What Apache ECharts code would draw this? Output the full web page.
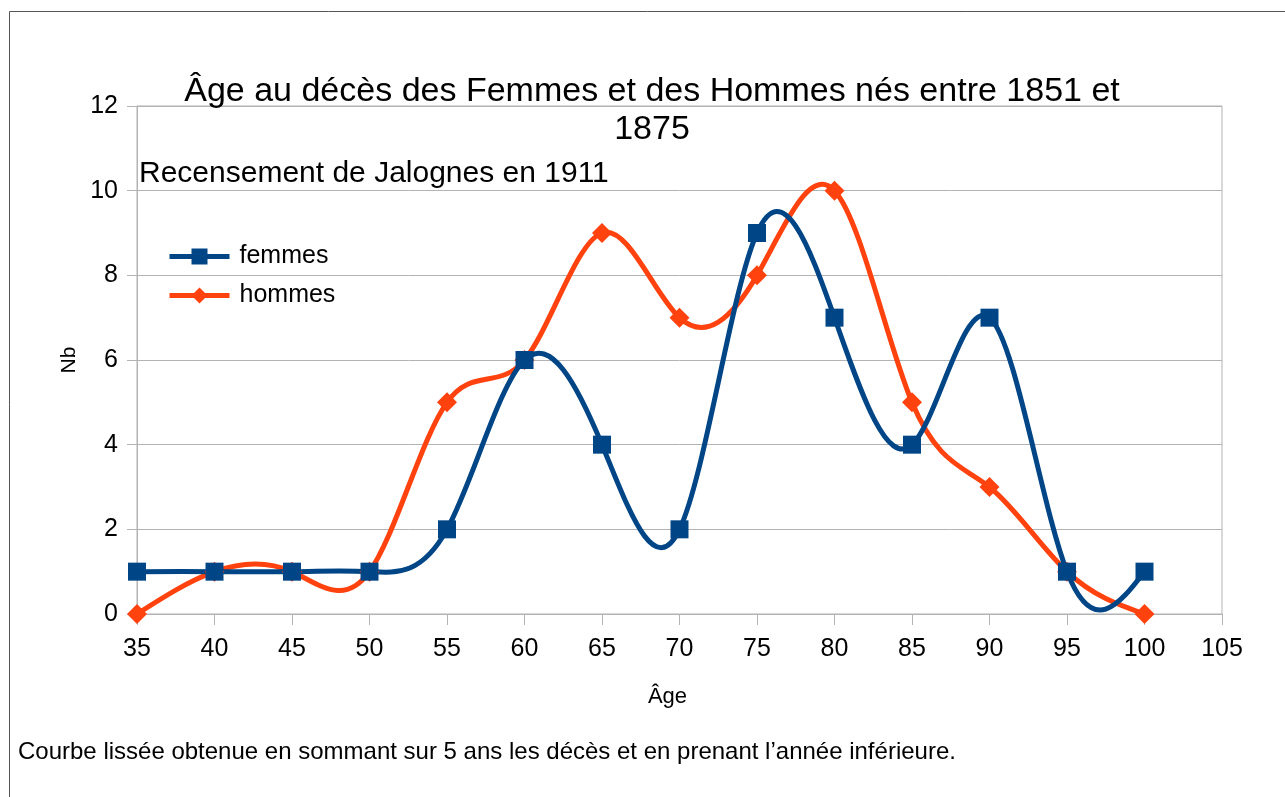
<!DOCTYPE html>
<html>
<head>
<meta charset="utf-8">
<script src="https://cdn.jsdelivr.net/npm/echarts@6/dist/echarts.min.js"></script>
<style>
  html, body { margin: 0; padding: 0; background: #fff; }
  #chart { width: 1285px; height: 797px; }
</style>
</head>
<body>
<div id="chart"></div>
<script>
// ages (x) and counts
const ages = [35, 40, 45, 50, 55, 60, 65, 70, 75, 80, 85, 90, 95, 100]
const femmes = [1, 1, 1, 1, 2, 6, 4, 2, 9, 7, 4, 7, 1, 1]
const hommes = [0, 1, 1, 1, 5, 6, 9, 7, 8, 10, 5, 3, 1, 0]

const font = 'Liberation Sans, Arial, sans-serif'
const gridColor = '#b3b3b3'
const blue = '#004586'
const orange = '#ff420e'

// natural cubic spline through pixel points, as bezier path (like the office "cubic spline" line)
function splinePath (pts) {
  const n = pts.length - 1
  const h = []
  for (let i = 0; i < n; i++) h.push(pts[i + 1][0] - pts[i][0])
  const M = new Array(n + 1).fill(0)
  // tridiagonal system for interior second derivatives
  const a = [], b = [], c = [], d = []
  for (let i = 1; i < n; i++) {
    a.push(h[i - 1])
    b.push(2 * (h[i - 1] + h[i]))
    c.push(h[i])
    d.push(6 * ((pts[i + 1][1] - pts[i][1]) / h[i] - (pts[i][1] - pts[i - 1][1]) / h[i - 1]))
  }
  const m = b.length
  for (let i = 1; i < m; i++) {
    const w = a[i] / b[i - 1]
    b[i] -= w * c[i - 1]
    d[i] -= w * d[i - 1]
  }
  if (m > 0) {
    M[m] = d[m - 1] / b[m - 1]
    for (let i = m - 2; i >= 0; i--) M[i + 1] = (d[i] - c[i] * M[i + 2]) / b[i]
  }
  let path = 'M' + pts[0][0] + ' ' + pts[0][1]
  for (let i = 0; i < n; i++) {
    const [x0, y0] = pts[i]
    const [x1, y1] = pts[i + 1]
    const hh = h[i]
    const s = (y1 - y0) / hh
    const d0 = s - hh * (2 * M[i] + M[i + 1]) / 6
    const d1 = s + hh * (M[i] + 2 * M[i + 1]) / 6
    path += ' C' + (x0 + hh / 3) + ' ' + (y0 + d0 * hh / 3) + ' ' +
      (x1 - hh / 3) + ' ' + (y1 - d1 * hh / 3) + ' ' + x1 + ' ' + y1
  }
  return path
}

function curveSeries (name, values, color, z) {
  return {
    name: name,
    type: 'custom',
    coordinateSystem: 'cartesian2d',
    data: ages.map((a, i) => [a, values[i]]),
    encode: { x: 0, y: 1 },
    z: z,
    silent: true,
    renderItem: function (params, api) {
      if (params.dataIndex !== 0) return null
      const pts = ages.map((a, i) => api.coord([a, values[i]]))
      return {
        type: 'path',
        shape: { pathData: splinePath(pts) },
        style: { stroke: color, lineWidth: 5, fill: 'none', lineJoin: 'round', lineCap: 'round' }
      }
    }
  }
}

function markerSeries (name, values, color, symbol, size, z) {
  return {
    name: name,
    type: 'line',
    data: ages.map((a, i) => [a, values[i]]),
    symbol: symbol,
    symbolSize: size,
    lineStyle: { color: color, width: 0 },
    itemStyle: { color: color },
    z: z
  }
}

const chart = echarts.init(document.getElementById('chart'))

chart.setOption({
  animation: false,
  textStyle: { fontFamily: font },
  title: [
    {
      text: 'Âge au décès des Femmes et des Hommes nés entre 1851 et\n1875',
      left: 647,
      top: 68,
      textAlign: 'center',
      textStyle: { fontSize: 34, fontWeight: 'normal', color: '#000', lineHeight: 38, fontFamily: font }
    },
    {
      text: 'Recensement de Jalognes en 1911',
      left: 134,
      top: 154,
      textStyle: { fontSize: 30, fontWeight: 'normal', color: '#000', fontFamily: font }
    },
    {
      text: 'Courbe lissée obtenue en sommant sur 5 ans les décès et en prenant l’année inférieure.',
      left: 13,
      top: 735,
      textStyle: { fontSize: 24, fontWeight: 'normal', color: '#000', fontFamily: font }
    }
  ],
  graphic: [
    {
      type: 'rect',
      shape: { x: 9.5, y: 11.5, width: 1300, height: 800 },
      style: { fill: 'none', stroke: '#555', lineWidth: 1 },
      silent: true
    }
  ],
  legend: {
    orient: 'vertical',
    left: 162,
    top: 239,
    itemWidth: 60,
    itemHeight: 20,
    itemGap: 14,
    lineStyle: { width: 5 },
    textStyle: { fontSize: 25, color: '#000', fontFamily: font, padding: [0, 0, 0, 5] },
    data: ['femmes', 'hommes']
  },
  grid: {
    left: 137,
    right: 63,
    top: 106,
    bottom: 183,
    show: true,
    borderColor: gridColor,
    borderWidth: 1
  },
  xAxis: {
    type: 'value',
    min: 35,
    max: 105,
    interval: 5,
    name: 'Âge',
    nameLocation: 'middle',
    nameGap: 72,
    nameTextStyle: { fontSize: 22, color: '#000', padding: [0, 24, 0, 0] },
    axisLine: { lineStyle: { color: gridColor } },
    axisTick: { show: true, length: 11, lineStyle: { color: gridColor } },
    axisLabel: { fontSize: 25, color: '#000', margin: 23 },
    splitLine: { show: false }
  },
  yAxis: {
    type: 'value',
    min: 0,
    max: 12,
    interval: 2,
    name: 'Nb',
    nameLocation: 'middle',
    nameGap: 57,
    nameTextStyle: { fontSize: 21, color: '#000' },
    axisLine: { show: true, lineStyle: { color: gridColor } },
    axisTick: { show: true, length: 10, lineStyle: { color: gridColor } },
    axisLabel: { fontSize: 25, color: '#000', margin: 19 },
    splitLine: { lineStyle: { color: gridColor } }
  },
  series: [
    markerSeries('femmes', femmes, blue, 'rect', 18, 5),
    markerSeries('hommes', hommes, orange, 'diamond', 20, 4),
    curveSeries('femmes', femmes, blue, 3),
    curveSeries('hommes', hommes, orange, 2)
  ]
})
</script>
</body>
</html>
